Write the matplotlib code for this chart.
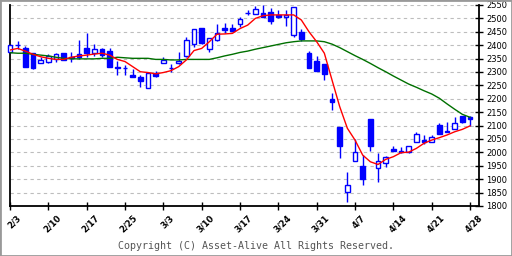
import numpy as np
import matplotlib
matplotlib.use("Agg")
import matplotlib.pyplot as plt
import matplotlib.transforms as mtransforms
from matplotlib.patches import Rectangle

# Daten
tick_labels = ["2/3", "2/10", "2/17", "2/25", "3/3", "3/10", "3/17",
               "3/24", "3/31", "4/7", "4/14", "4/21", "4/28"]

opens = [2373, 2400, 2388, 2370, 2332, 2336, 2347, 2371, 2357, 2367,
         2388, 2370, 2385, 2378, 2318, 2316, 2289, 2280, 2239, 2295,
         2332, 2316, 2332, 2361, 2403, 2463, 2385, 2419, 2463, 2463,
         2478, 2519, 2515, 2519, 2525, 2513, 2504, 2438, 2448, 2370,
         2341, 2330, 2199, 2096, 1853, 1969, 1949, 2125, 1940, 1959,
         2011, 2006, 2000, 2040, 2046, 2040, 2102, 2078, 2086, 2136,
         2131]
highs = [2405, 2416, 2397, 2372, 2355, 2367, 2372, 2371, 2373, 2419,
         2447, 2404, 2388, 2388, 2341, 2326, 2310, 2289, 2301, 2305,
         2355, 2330, 2376, 2429, 2462, 2466, 2428, 2479, 2482, 2479,
         2507, 2531, 2546, 2550, 2538, 2531, 2531, 2544, 2459, 2378,
         2360, 2330, 2220, 2096, 1928, 2049, 1990, 2125, 1999, 1987,
         2025, 2019, 2025, 2077, 2065, 2065, 2108, 2112, 2131, 2136,
         2136]
lows = [2370, 2386, 2320, 2311, 2332, 2332, 2339, 2345, 2339, 2347,
        2357, 2360, 2357, 2320, 2289, 2289, 2280, 2245, 2239, 2280,
        2332, 2301, 2330, 2355, 2395, 2403, 2373, 2417, 2447, 2454,
        2469, 2513, 2515, 2504, 2478, 2500, 2473, 2429, 2417, 2316,
        2305, 2270, 2158, 1980, 1816, 1969, 1878, 2006, 1891, 1947,
        2006, 1997, 1997, 2040, 2031, 2040, 2067, 2077, 2086, 2108,
        2099]
closes = [2401, 2401, 2320, 2316, 2345, 2360, 2367, 2345, 2353, 2355,
          2370, 2385, 2363, 2320, 2315, 2316, 2280, 2268, 2298, 2285,
          2345, 2316, 2342, 2419, 2459, 2407, 2426, 2444, 2457, 2454,
          2497, 2519, 2534, 2504, 2492, 2504, 2513, 2541, 2422, 2316,
          2305, 2293, 2187, 2025, 1878, 2000, 1901, 2025, 1969, 1984,
          2006, 2000, 2025, 2067, 2040, 2056, 2067, 2077, 2108, 2115,
          2123]

ma_short = [2382, 2388, 2378, 2366, 2357, 2351, 2347, 2347, 2355, 2360,
            2363, 2367, 2370, 2363, 2347, 2339, 2320, 2301, 2298, 2293,
            2298, 2305, 2320, 2345, 2380, 2388, 2413, 2441, 2442, 2444,
            2462, 2475, 2500, 2510, 2513, 2513, 2513, 2513, 2494, 2450,
            2413, 2370, 2270, 2171, 2090, 2046, 1990, 1965, 1955, 1974,
            1984, 1999, 2001, 2015, 2034, 2046, 2055, 2065, 2077, 2086,
            2099]
ma_long = [2372, 2370, 2370, 2366, 2363, 2360, 2355, 2351, 2349, 2349,
           2349, 2349, 2351, 2351, 2355, 2353, 2351, 2351, 2351, 2347,
           2347, 2345, 2345, 2347, 2347, 2347, 2347, 2353, 2360, 2366,
           2373, 2378, 2385, 2391, 2397, 2403, 2409, 2413, 2416, 2416,
           2416, 2413, 2404, 2391, 2376, 2361, 2347, 2332, 2316, 2301,
           2285, 2270, 2255, 2243, 2230, 2218, 2202, 2181, 2161, 2142,
           2131]

BLUE = "#0000FF"
x = np.arange(len(opens))
o = np.array(opens, float)
c = np.array(closes, float)

fig = plt.figure(figsize=(5.12, 2.56), dpi=100)
fig.patch.set_facecolor("white")
ax = fig.add_axes([10 / 512, 50 / 256, 469 / 512, 201 / 256])

# Gitter
for v in range(1850, 2551, 50):
    ax.axhline(v, color="#bdbdbd", linewidth=0.8, linestyle=(0, (3, 3)), zorder=0)

# Kerzen
ax.vlines(x, lows, highs, color=BLUE, linewidth=1.0, zorder=2, clip_on=False)
up = c >= o
body = np.where(np.abs(c - o) < 1, 0.5, c - o)
ax.bar(x[up], body[up], bottom=o[up], width=0.6, facecolor="white",
       edgecolor=BLUE, linewidth=1.0, zorder=3, clip_on=False)
ax.bar(x[~up], body[~up], bottom=o[~up], width=0.6, facecolor=BLUE,
       edgecolor=BLUE, linewidth=1.0, zorder=3, clip_on=False)

# gleitende Durchschnitte
ax.plot(x, ma_long, color="#007000", linewidth=1.0, zorder=4)
ax.plot(x, ma_short, color="#ff0000", linewidth=1.0, zorder=4)

ax.set_xlim(0, 61.17)
ax.set_ylim(1800, 2550)

ax.yaxis.tick_right()
ax.set_yticks(range(1800, 2551, 50))
ax.tick_params(axis="y", direction="inout", length=6, width=1.0,
               labelsize=6, pad=2)
ax.set_xticks(np.arange(0, 61, 5))
ax.set_xticklabels(tick_labels, rotation=45, ha="center", fontsize=6,
                   fontweight="bold")
ax.tick_params(axis="x", direction="inout", length=6, width=1.0, pad=2)
shift = mtransforms.ScaledTranslation(4 / 100, 0, fig.dpi_scale_trans)
for lbl in ax.get_xticklabels():
    lbl.set_transform(lbl.get_transform() + shift)

ax.spines["top"].set_visible(False)
for s in ("left", "bottom", "right"):
    ax.spines[s].set_linewidth(1.3)
    ax.spines[s].set_color("black")

fig.text(0.5, 10 / 256, "Copyright (C) Asset-Alive All Rights Reserved.",
         ha="center", va="center", fontsize=7.2, family="DejaVu Sans Mono",
         color="#555555")

fig.patches.append(Rectangle((0, 0), 1, 1, transform=fig.transFigure,
                             fill=False, edgecolor="#999999", linewidth=2))

fig.savefig("out.png", dpi=100)
